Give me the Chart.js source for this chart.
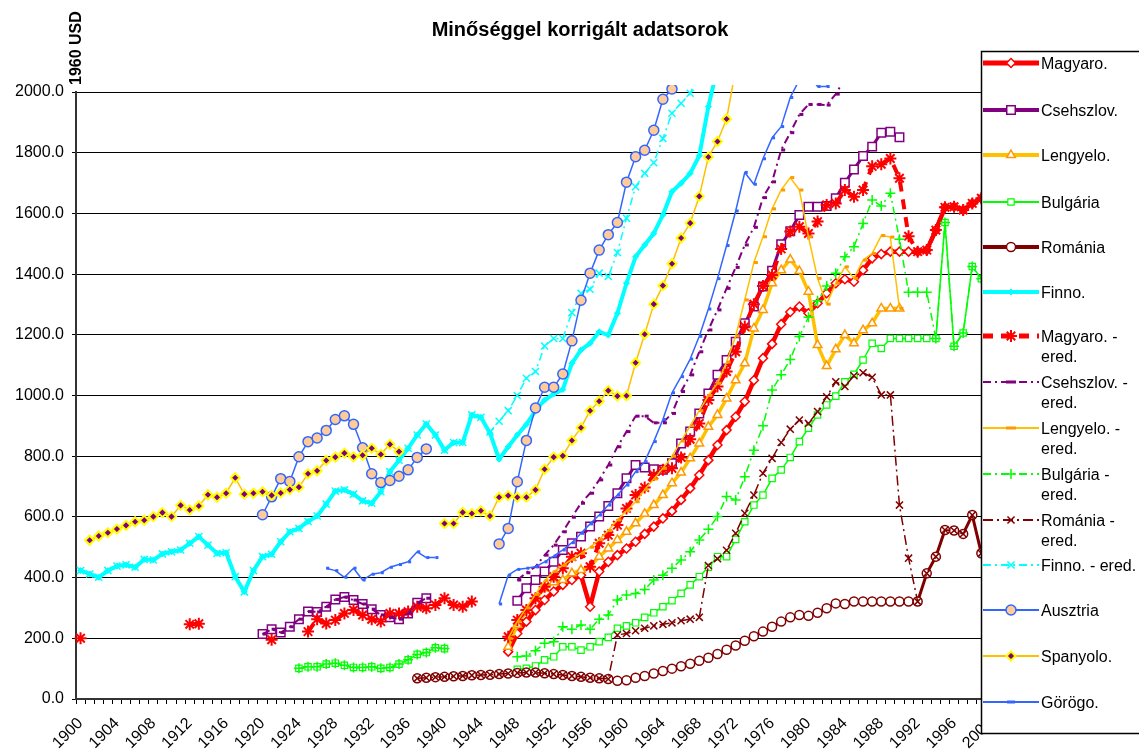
<!DOCTYPE html>
<html><head><meta charset="utf-8">
<script src="https://cdn.jsdelivr.net/npm/chart.js@4.4.1/dist/chart.umd.min.js"></script>
<style>html,body{margin:0;padding:0;background:#fff;}canvas{display:block;}</style>
</head><body>
<canvas id="c" width="1139" height="751"></canvas>
<script>
// ---------- categories ----------
const FIRST_YEAR = 1900, LAST_YEAR = 2000;
const years = [];
for (let y = FIRST_YEAR; y <= LAST_YEAR; y++) years.push(String(y));
const yTickValues = [0, 200, 400, 600, 800, 1000, 1200, 1400, 1600, 1800, 2000];

// ---------- series values: [startYear, values...] segments ----------
const magyaro = [[1947, [156,216,255,293,326,354,376,392,408,304, 420,452,474,496,518,544,568,595,619,656,
  694,738,787,837,886,930,980,1050,1123,1170, 1235,1275,1293,1271,1304,1337,1370,1383,1375,1413,
  1452,1466,1474,1474,1474,1474,1479,1545,1620,1622, 1611,1633,1650,1665]]];
const csehszlov = [[1920, [214,230,219,238,263,288,287,304,328,336,326,313,296,277,269,263,282,317,332]],
  [1948, [324,365,392,420,452,491,513,535,568,601, 636,678,727,771,763,757,755,777,842,881,
  941,1007,1068,1117,1177,1238,1293,1359,1411,1498, 1541,1595,1622,1622,1624,1650,1701,1745,1789,1820,
  1866,1869,1851]]];
const lengyelo = [[1947, [172,245,290,330,365,385,392,414,425,436, 469,496,524,551,579,610,639,672,711,746,
  793,842,897,936,990,1050,1106,1221,1282,1370, 1413,1448,1410,1342,1166,1097,1152,1199,1172,1215,
  1238,1287,1287,1287]]];
const bulgaria = [[1924, [101,106,106,115,118,111,104,104,106,101,104,115,129,147,153,169,166]],
  [1948, [98,101,109,129,139,172,172,161,172,189, 203,233,241,251,269,284,304,324,348,376,
  403,434,469,469,526,584,639,672,727,755, 796,848,892,936,969,998,1045,1070,1117,1172,
  1155,1188,1188,1188,1188,1188,1188,1570,1162,1206, 1425,1385,1400]]];
const romania = [[1937, [68,70,72,73,75,76,78,79,80,82, 84,86,87,87,85,82,79,76,73,70, 68,66,60,
  62,70,76,84,92,100,108,116,126,136,148,162,176,192,207,222,
  238,255,269,277,274,284,299,315,313,321, 321,321,321,321,321,321,321,414,469,557,
  555,544,606,480,500]]];
const finno = [[1900, [423,412,401,423,438,442,434,460,458,478, 485,491,513,535,507,480,482,403,353,423,
  469,477,518,551,562,585,603,642,685,689, 675,653,645,683,749,787,826,870,906,870,
  820,845,845,936,928,876,790,831,870,905, 950,985,1005,1020,1106,1150,1172,1210,1199,1271,
  1370,1457,1496,1534,1595,1672,1699,1732,1790,1952, 2080]]];
const magyaroEred = [[1900, [200]], [1912, [246,248]], [1921, [195]],
  [1925, [222,263,249,260,282,293,277,263,255,282,282,288,304,299,310,332,310,304,321]],
  [1947, [205,260,293,332,370,403,431,469,480,436, 513,540,573,628,672,697,738,755,760,796,
  856,908,985,1030,1079,1144,1227,1301,1361,1397, 1483,1540,1556,1534,1573,1628,1633,1677,1655,1677,
  1755,1762,1781,1716,1525,1474,1479,1545,1620,1622, 1611,1633,1650,1665]]];
const csehszlovEred = [[1920, [214,230,219,238,263,288,287,304,328,336,326,313,296,277,269,263,282,317,332]],
  [1948, [392,416,436,474,507,551,599,645,678,722, 771,831,881,932,932,910,910,941,1013,1068,
  1144,1216,1282,1353,1422,1496,1554,1652,1704,1809, 1866,1926,1959,1959,1957,1993,2045,2100]]];
const lengyeloEred = [[1947, [200,255,300,345,390,420,440,460,480,500, 525,555,590,620,650,690,725,760,800,850,
  900,950,1000,1040,1110,1196,1315,1438,1523,1615, 1677,1718,1677,1523,1386,1301,1370,1424,1386,1446,
  1468,1527,1522,1287]]];
const bulgariaEred = [[1924, [101,106,106,115,118,111,104,104,106,101,104,115,129,147,153,169,166]],
  [1948, [139,142,159,184,189,238,230,244,230,263, 277,326,343,348,361,392,408,431,458,485,
  524,559,601,667,656,732,820,900,1018,1068, 1119,1194,1258,1312,1361,1403,1457,1490,1567,1644,
  1624,1666,1515,1340,1340,1340,1188,1570,1162,1206, 1425,1385,1400]]];
const romaniaEred = [[1937, [68,70,72,73,75,76,78,79,80,82,84,86,87,87,85,82,79,76,73,70,68,66]],
  [1959, [211,216,225,233,241,246,251,258,263,269, 440,462,490,546,612,672,744,793,845,889,
  919,908,947,996,1045,1030,1065,1075,1060,1002, 1002,639,464,321,414,469,557,555,544,606,480,500]]];
const finnoEred = [[1900, [423,412,401,423,438,442,434,460,458,478, 485,491,513,535,507,480,482,403,353,423,
  469,477,518,551,562,585,603,642,685,689, 675,653,645,683,749,787,826,870,906,870, 820,845,845,936,928]],
  [1945, [880,915,950,1000,1057,1079,1163,1188,1188,1273,1337,1350,1403,1392,1471,1584,1688,1732,1767,1847,1930,1963,1996,2060]]];
const ausztria = [[1920, [607,666,726,717,798,848,860,885,921,933,905,828,742,713,720,734,755,796,824]],
  [1946, [511,562,716,852,959,1027,1027,1071,1180,1314, 1403,1479,1530,1570,1703,1787,1808,1874,1976,2010, 2100]]];
const spanyolo = [[1901, [523,537,548,560,572,584,589,601,614,601, 638,623,636,673,665,678,729,675,678,683,
  671,679,690,698,742,752,786,797,810,798, 803,826,806,839,815]],
  [1940, [578,578,615,611,620,603,665,670,665,665, 689,757,797,801,852,894,950,981,1016,998,
  999,1108,1202,1301,1362,1434,1519,1568,1656,1786, 1837,1911,2075]]];
const gorogo = [[1927, [431,423,401,431,392,411,416,434,443,452,485,466,466]],
  [1946, [313,408,427,431,436,452,471,491,515,546, 577,606,639,672,705,749,782,848,921,1009,
  1062,1120,1195,1285,1385,1494,1608,1735,1696,1780, 1849,1886,1982,2040,2060,2018,2018,2080]]];

function toCategoryArray(segs) {
  const out = new Array(years.length).fill(null);
  segs.forEach(([start, vals]) => vals.forEach((v, i) => { out[start - FIRST_YEAR + i] = v; }));
  return out;
}

const DASH_ERED = [8, 4, 2, 4];
const series = [
  {label: ['Magyaro.'], data: magyaro, color: '#FF0000', width: 4.5, style: 'rectRot', r: 4.5, pb: '#FF0000', pf: '#FFFFFF', pw: 1.5, dash: [], ly: 63, lw: 5},
  {label: ['Csehszlov.'], data: csehszlov, color: '#800080', width: 3, style: 'rect', r: 6, pb: '#800080', pf: '#FFFFFF', pw: 1.5, dash: [], ly: 110, lw: 4},
  {label: ['Lengyelo.'], data: lengyelo, color: '#FFC000', width: 3.5, style: 'triangle', r: 5, pb: '#FF9900', pf: '#FFFFFF', pw: 1.5, dash: [], ly: 155, lw: 4},
  {label: ['Bulgária'], data: bulgaria, color: '#00FF00', width: 1.5, style: 'rect', r: 4.5, pb: '#00FF00', pf: '#FFFFFF', pw: 1.2, dash: [], ly: 202, lw: 2},
  {label: ['Románia'], data: romania, color: '#800000', width: 3, style: 'circle', r: 4.5, pb: '#800000', pf: '#FFFFFF', pw: 1.5, dash: [], ly: 247, lw: 4},
  {label: ['Finno.'], data: finno, color: '#00FFFF', width: 4, style: 'rectRot', r: 3, pb: '#00FFFF', pf: '#00FFFF', pw: 1, dash: [], ly: 292, lw: 4},
  {label: ['Magyaro. -', 'ered.'], data: magyaroEred, color: '#FF0000', width: 4, style: 'star', r: 6, pb: '#FF0000', pf: '#FF0000', pw: 2, dash: [10, 8], ly: 336, lw: 5},
  {label: ['Csehszlov. -', 'ered.'], data: csehszlovEred, color: '#800080', width: 2, style: 'dash', r: 4, pb: '#800080', pf: '#800080', pw: 3, dash: DASH_ERED, ly: 382, lw: 2},
  {label: ['Lengyelo. -', 'ered.'], data: lengyeloEred, color: '#FFC000', width: 1.5, style: 'dash', r: 4, pb: '#FF9900', pf: '#FF9900', pw: 3, dash: [], ly: 428, lw: 2},
  {label: ['Bulgária -', 'ered.'], data: bulgariaEred, color: '#00FF00', width: 1.5, style: 'cross', r: 5, pb: '#00FF00', pf: '#00FF00', pw: 1.5, dash: DASH_ERED, ly: 474, lw: 2},
  {label: ['Románia -', 'ered.'], data: romaniaEred, color: '#800000', width: 1.5, style: 'crossRot', r: 5, pb: '#800000', pf: '#800000', pw: 1.5, dash: [10, 4, 2, 4], ly: 520, lw: 2},
  {label: ['Finno. - ered.'], data: finnoEred, color: '#00FFFF', width: 1.5, style: 'crossRot', r: 5, pb: '#00FFFF', pf: '#00FFFF', pw: 1.5, dash: DASH_ERED, ly: 565, lw: 2},
  {label: ['Ausztria'], data: ausztria, color: '#3366FF', width: 1.5, style: 'circle', r: 5, pb: '#3366FF', pf: '#FFCC99', pw: 1.5, dash: [], ly: 610, lw: 2},
  {label: ['Spanyolo.'], data: spanyolo, color: '#FFC000', width: 1.5, style: 'rectRot', r: 4.5, pb: '#FFFF00', pf: '#800080', pw: 2, dash: [], ly: 656, lw: 2},
  {label: ['Görögo.'], data: gorogo, color: '#3366FF', width: 1.5, style: 'dash', r: 3, pb: '#3366FF', pf: '#3366FF', pw: 3, dash: [], ly: 702, lw: 2}
];

const FONT = '"Liberation Sans", Arial, sans-serif';

const datasets = series.map((s, i) => ({
  label: s.label.join(' '),
  data: toCategoryArray(s.data),
  borderColor: s.color,
  borderWidth: s.width,
  borderDash: s.dash,
  borderJoinStyle: 'round',
  pointStyle: s.style,
  pointRadius: s.r,
  pointBorderColor: s.pb,
  pointBackgroundColor: s.pf,
  pointBorderWidth: s.pw,
  spanGaps: false,
  tension: 0,
  order: series.length - 1 - i,
  clip: {left: 10, top: 7, right: 0, bottom: 8}
}));

const decor = {
  id: 'decor',
  beforeDraw(chart) {
    const c = chart.ctx;
    c.save(); c.fillStyle = '#fff'; c.fillRect(0, 0, chart.width, chart.height); c.restore();
  },
  afterDraw(chart) {
    const c = chart.ctx;
    c.save();
    // title
    c.fillStyle = '#000';
    c.font = 'bold 20px ' + FONT;
    c.textAlign = 'center'; c.textBaseline = 'middle';
    c.fillText('Minőséggel korrigált adatsorok', 580, 30);
    // y axis title
    c.save();
    c.translate(77, 85); c.rotate(-Math.PI / 2);
    c.font = 'bold 16px ' + FONT; c.textAlign = 'left'; c.textBaseline = 'middle';
    c.fillText('1960 USD', 0, 0);
    c.restore();
    // legend
    c.fillStyle = '#fff'; c.strokeStyle = '#000'; c.lineWidth = 1.5;
    c.fillRect(981, 51, 200, 682);
    c.strokeRect(981.5, 51.5, 200, 682);
    series.forEach(s => {
      const y = s.ly;
      c.save();
      c.strokeStyle = s.color; c.lineWidth = s.lw; c.setLineDash(s.dash);
      c.beginPath(); c.moveTo(983, y); c.lineTo(1039, y); c.stroke();
      c.setLineDash([]);
      if (s.style === 'dash') {
        c.fillStyle = s.pb;
        c.fillRect(1011 - s.r - 1, y - 1.5, 2 * s.r + 2, 3);
      } else {
        c.strokeStyle = s.pb; c.fillStyle = s.pf; c.lineWidth = s.pw;
        Chart.helpers.drawPoint(c, {pointStyle: s.style, radius: s.r, rotation: 0, borderWidth: s.pw}, 1011, y);
      }
      c.restore();
      c.fillStyle = '#000'; c.font = '16px ' + FONT; c.textAlign = 'left'; c.textBaseline = 'middle';
      s.label.forEach((t, k) => c.fillText(t, 1041, y + 2 + k * 20));
    });
    c.restore();
  }
};

new Chart(document.getElementById('c'), {
  type: 'line',
  data: {labels: years, datasets},
  options: {
    responsive: false, animation: false, devicePixelRatio: 1,
    layout: {padding: {left: 0, right: 144, top: 92, bottom: 0}},
    plugins: {legend: {display: false}, title: {display: false}, tooltip: {enabled: false}},
    scales: {
      x: {
        type: 'category', offset: true,
        grid: {display: true, drawOnChartArea: false, drawTicks: true, tickLength: 5, color: '#000', offset: true},
        border: {display: true, color: '#333', width: 2},
        ticks: {autoSkip: false, maxRotation: 45, minRotation: 45, padding: 10, color: '#000',
          font: {family: FONT, size: 16},
          callback: (v, i) => (i % 4 === 0 ? years[i] : '')},
        afterFit: s => { s.height = 52; }
      },
      y: {
        min: yTickValues[0], max: yTickValues[yTickValues.length - 1],
        afterBuildTicks: s => { s.ticks = yTickValues.map(v => ({value: v})); },
        ticks: {color: '#000', padding: 8, font: {family: FONT, size: 16}, callback: v => Number(v).toFixed(1)},
        grid: {color: '#000', lineWidth: 1, tickLength: 4, drawTicks: true},
        border: {display: true, color: '#333', width: 2},
        afterFit: s => { s.width = 76; }
      }
    }
  },
  plugins: [decor]
});
</script>
</body></html>
